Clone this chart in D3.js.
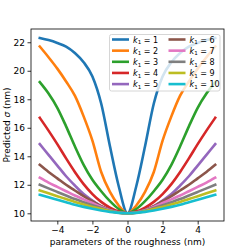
<!DOCTYPE html>
<html><head><meta charset="utf-8">
<script src="https://cdn.jsdelivr.net/npm/d3@7"></script>
<style>html,body{margin:0;padding:0;background:#fff}svg{display:block}</style>
</head><body>
<script>
const xValues = [-5,-4.5,-4,-3.5,-3,-2.5,-2,-1.5,-1,-0.5,0,0.5,1,1.5,2,2.5,3,3.5,4,4.5,5];
const k1Labels = ["1","2","3","4","5","6","7","8","9","10"];
const sigmaK1 = [22.3,22.15,21.95,21.7,21.25,20.6,19.6,17.7,14.7,11.9,10.0,11.9,14.7,17.7,19.6,20.6,21.25,21.7,21.95,22.15,22.3];
const sigmaK2 = [21.7,20.95,20.15,19.25,18.25,16.8,15.1,12.9,11.5,10.55,10.0,10.55,11.5,12.9,15.1,16.8,18.25,19.25,20.15,20.95,21.7];
const sigmaK3 = [19.2,18.4,17.4,16.1,14.7,13.4,12.35,11.55,10.85,10.3,10.0,10.3,10.85,11.55,12.35,13.4,14.7,16.1,17.4,18.4,19.2];
const sigmaK4 = [16.7,15.8,14.85,13.85,12.9,12.05,11.35,10.8,10.4,10.12,10.0,10.12,10.4,10.8,11.35,12.05,12.9,13.85,14.85,15.8,16.7];
const sigmaK5 = [14.85,14.1,13.35,12.6,11.95,11.35,10.9,10.5,10.22,10.06,10.0,10.06,10.22,10.5,10.9,11.35,11.95,12.6,13.35,14.1,14.85];
const sigmaK6 = [13.4,12.9,12.45,12.0,11.6,11.2,10.85,10.5,10.25,10.07,10.0,10.07,10.25,10.5,10.85,11.2,11.6,12.0,12.45,12.9,13.4];
const sigmaK7 = [12.5,12.15,11.85,11.55,11.25,10.98,10.72,10.45,10.22,10.06,10.0,10.06,10.22,10.45,10.72,10.98,11.25,11.55,11.85,12.15,12.5];
const sigmaK8 = [12.0,11.75,11.5,11.25,11.0,10.78,10.57,10.37,10.18,10.05,10.0,10.05,10.18,10.37,10.57,10.78,11.0,11.25,11.5,11.75,12.0];
const sigmaK9 = [11.6,11.4,11.2,11.0,10.8,10.62,10.45,10.3,10.15,10.04,10.0,10.04,10.15,10.3,10.45,10.62,10.8,11.0,11.2,11.4,11.6];
const sigmaK10 = [11.3,11.12,10.95,10.78,10.6,10.45,10.32,10.2,10.1,10.03,10.0,10.03,10.1,10.2,10.32,10.45,10.6,10.78,10.95,11.12,11.3];
const allSeries = [sigmaK1,sigmaK2,sigmaK3,sigmaK4,sigmaK5,sigmaK6,sigmaK7,sigmaK8,sigmaK9,sigmaK10];
const xTicks = [-4,-2,0,2,4];
const yTicks = [10,12,14,16,18,20,22];
const colors = ["#1f77b4","#ff7f0e","#2ca02c","#d62728","#9467bd","#8c564b","#e377c2","#7f7f7f","#bcbd22","#17becf"];

const W = 249, H = 249;
const m = {left:31, right:224, top:29, bottom:221};
const font = "DejaVu Sans, sans-serif";
const fs = 9;

const svg = d3.select("body").append("svg").attr("width",W).attr("height",H);
const x = d3.scaleLinear().domain([-5.5,5.5]).range([m.left,m.right]);
const y = d3.scaleLinear().domain([9.46,22.93]).range([m.bottom,m.top]);

svg.append("clipPath").attr("id","c").append("rect")
  .attr("x",m.left).attr("y",m.top).attr("width",m.right-m.left).attr("height",m.bottom-m.top);

const line = d3.line().x((d,i)=>x(xValues[i])).y(d=>y(d)).curve(d3.curveMonotoneX);
const g = svg.append("g").attr("clip-path","url(#c)");
allSeries.forEach((s,i)=>{
  g.append("path").datum(s).attr("d",line).attr("fill","none")
    .attr("stroke",colors[i]).attr("stroke-width",2.6).attr("stroke-linecap","square");
});

// axes
const xAxis = svg.append("g").attr("transform",`translate(0,${m.bottom})`)
  .call(d3.axisBottom(x).tickValues(xTicks).tickSize(3.5).tickPadding(2).tickFormat(d=>d<0?"\u2212"+Math.abs(d):d));
const yAxis = svg.append("g").attr("transform",`translate(${m.left},0)`)
  .call(d3.axisLeft(y).tickValues(yTicks).tickSize(3.5).tickPadding(2.5));
[xAxis,yAxis].forEach(a=>{
  a.select(".domain").remove();
  a.selectAll("line").attr("stroke","#000").attr("stroke-width",0.8);
  a.selectAll("text").attr("font-family",font).attr("font-size",fs).attr("fill","#000");
});
svg.append("rect").attr("x",m.left).attr("y",m.top).attr("width",m.right-m.left).attr("height",m.bottom-m.top)
  .attr("fill","none").attr("stroke","#000").attr("stroke-width",0.8);

// labels
svg.append("text").attr("x",(m.left+m.right)/2).attr("y",244.5).attr("text-anchor","middle")
  .attr("font-family",font).attr("font-size",fs).attr("fill","#000").text("parameters of the roughness (nm)");
const yl = svg.append("text").attr("transform",`translate(10,${(m.top+m.bottom)/2}) rotate(-90)`)
  .attr("text-anchor","middle").attr("font-family",font).attr("font-size",fs).attr("fill","#000");
yl.append("tspan").text("Predicted ");
yl.append("tspan").attr("font-style","italic").text("\u03c3");
yl.append("tspan").text(" (nm)");

// legend
const lg = svg.append("g");
lg.append("rect").attr("x",109.5).attr("y",34.5).attr("width",110.5).attr("height",56.5).attr("rx",2)
  .attr("fill","#fff").attr("fill-opacity",0.8).attr("stroke","#ccc").attr("stroke-width",0.8);
k1Labels.forEach((lab,i)=>{
  const col = Math.floor(i/5), row = i%5;
  const lx = 112 + col*56.5, ly = 39.5 + row*11.15;
  lg.append("line").attr("x1",lx).attr("x2",lx+17).attr("y1",ly).attr("y2",ly)
    .attr("stroke",colors[i]).attr("stroke-width",2.6);
  const t = lg.append("text").attr("x",lx+21).attr("y",ly+3).attr("font-family",font).attr("font-size",8).attr("fill","#000");
  t.append("tspan").attr("font-style","italic").text("k");
  t.append("tspan").attr("font-size",5.6).attr("dy",1.8).text("1");
  t.append("tspan").attr("dy",-1.8).text(" = "+lab);
});
</script>
</body></html>
